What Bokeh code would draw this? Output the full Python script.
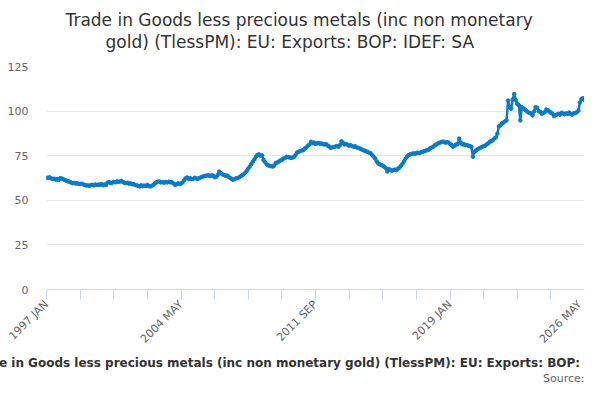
from bokeh.embed import file_html
from bokeh.models import FixedTicker, Range1d, Title
from bokeh.plotting import figure
from bokeh.resources import INLINE

TITLE_LINES = [
    "Trade in Goods less precious metals (inc non monetary",
    "gold) (TlessPM): EU: Exports: BOP: IDEF: SA",
]
CAPTION = ("Trade in Goods less precious metals (inc non monetary gold) "
           "(TlessPM): EU: Exports: BOP: IDEF: SA")
SOURCE = "Source:"

START_YEAR = 1997
MONTHS = ["JAN", "FEB", "MAR", "APR", "MAY", "JUN",
          "JUL", "AUG", "SEP", "OCT", "NOV", "DEC"]

# monthly index values, one list per year
v1997 = [62.8, 62.5, 62.9, 62.3, 62.0, 62.1, 61.6, 61.9, 61.4, 62.4, 62.2, 61.8]
v1998 = [61.4, 61.0, 60.6, 60.4, 60.0, 59.6, 59.8, 59.4, 59.5, 59.2, 59.1, 59.3]
v1999 = [58.9, 58.6, 58.3, 58.4, 58.1, 58.5, 58.7, 58.4, 58.9, 58.6, 58.8, 58.7]
v2000 = [59.1, 58.5, 58.9, 58.6, 60.0, 60.2, 59.6, 59.9, 60.3, 60.1, 60.6, 60.4]
v2001 = [60.5, 60.9, 60.2, 59.8, 59.6, 59.9, 59.3, 59.5, 59.0, 59.1, 58.6, 58.4]
v2002 = [58.0, 57.8, 58.5, 57.9, 58.2, 58.1, 58.7, 57.9, 57.8, 58.2, 58.6, 59.6]
v2003 = [60.1, 60.5, 60.5, 60.0, 60.2, 59.9, 60.2, 60.0, 60.4, 60.1, 60.2, 59.5]
v2004 = [58.7, 58.9, 59.5, 59.2, 59.4, 60.0, 61.2, 62.3, 62.8, 62.0, 62.4, 61.9]
v2005 = [62.0, 62.6, 62.2, 62.1, 62.4, 62.9, 63.2, 63.5, 63.7, 63.9, 64.1, 63.6]
v2006 = [63.9, 63.9, 62.9, 63.1, 64.2, 66.1, 65.2, 64.6, 64.2, 63.8, 63.9, 63.3]
v2007 = [62.6, 62.0, 61.5, 61.8, 62.3, 62.5, 62.8, 63.5, 64.0, 64.6, 65.4, 66.5]
v2008 = [67.8, 69.0, 70.3, 71.7, 72.9, 74.4, 75.4, 75.8, 75.0, 75.2, 72.6, 71.4]
v2009 = [70.2, 69.6, 69.3, 69.1, 68.9, 69.4, 70.9, 71.2, 71.8, 72.3, 72.6, 73.5]
v2010 = [73.6, 74.4, 74.2, 74.0, 73.8, 74.0, 74.3, 75.5, 76.8, 77.2, 77.6, 77.9]
v2011 = [78.1, 79.0, 79.6, 80.6, 81.2, 82.8, 82.0, 82.4, 81.6, 81.9, 82.1, 81.7]
v2012 = [81.9, 81.4, 81.3, 81.5, 80.6, 80.2, 79.4, 79.7, 79.8, 80.2, 80.4, 80.0]
v2013 = [81.0, 83.1, 82.2, 81.3, 81.6, 81.0, 80.6, 80.9, 80.4, 80.0, 80.3, 79.6]
v2014 = [79.3, 79.1, 78.6, 78.2, 77.8, 77.5, 77.1, 76.7, 76.4, 75.4, 74.5, 73.5]
v2015 = [71.8, 70.7, 70.2, 69.8, 69.4, 68.8, 68.0, 66.1, 67.5, 67.0, 66.6, 66.9]
v2016 = [67.2, 67.0, 67.8, 68.4, 69.4, 70.6, 72.0, 73.5, 74.6, 75.4, 75.8, 76.0]
v2017 = [76.3, 76.1, 76.5, 76.7, 76.4, 76.9, 77.2, 77.5, 77.8, 78.1, 78.4, 79.2]
v2018 = [79.6, 80.0, 80.8, 81.3, 81.9, 82.2, 82.5, 82.8, 82.8, 82.3, 82.6, 82.4]
v2019 = [81.6, 81.0, 80.0, 80.6, 81.3, 81.5, 84.6, 82.4, 81.3, 81.5, 80.9, 81.0]
v2020 = [80.6, 80.4, 80.0, 74.4, 77.2, 77.9, 78.6, 79.1, 79.5, 80.0, 80.3, 80.6]
v2021 = [81.4, 81.8, 82.8, 83.2, 83.6, 84.6, 85.3, 87.4, 91.5, 92.0, 93.2, 93.6]
v2022 = [94.3, 94.8, 105.9, 102.2, 101.3, 106.5, 109.6, 106.2, 104.0, 103.4, 94.8, 102.2]
v2023 = [101.5, 100.8, 100.2, 99.4, 99.0, 98.6, 97.6, 99.8, 102.2, 101.9, 100.0, 99.6]
v2024 = [98.5, 98.9, 99.4, 100.9, 100.5, 99.8, 99.0, 98.6, 97.2, 97.8, 98.1, 98.4]
v2025 = [98.0, 99.1, 98.6, 98.3, 98.7, 98.5, 99.2, 98.4, 98.0, 98.8, 98.9, 99.4]
v2026 = [100.2, 104.8, 106.8, 107.2, 106.0]

YEARS = [v1997, v1998, v1999, v2000, v2001, v2002, v2003, v2004, v2005, v2006,
         v2007, v2008, v2009, v2010, v2011, v2012, v2013, v2014, v2015, v2016,
         v2017, v2018, v2019, v2020, v2021, v2022, v2023, v2024, v2025, v2026]

Y_TICKS = [0, 25, 50, 75, 100, 125]
TICK_EVERY = 22      # months between x ticks
LABEL_EVERY = 88     # months between labelled x ticks

values = [v for year in YEARS for v in year]
idx = list(range(len(values)))
months = [f"{START_YEAR + i // 12} {MONTHS[i % 12]}" for i in idx]

BLUE = "#0b7bc6"
FONT = "DejaVu Sans"

p = figure(
    width=584, height=384,
    x_range=Range1d(0, len(values) - 1), y_range=Range1d(0, 125),
    output_backend="svg", toolbar_location=None, tools="",
    min_border_left=46, min_border_right=0,
    min_border_top=66, min_border_bottom=92,
)
p.outline_line_color = None
p.xgrid.visible = False
p.ygrid.grid_line_color = "#e6e6e6"
p.ygrid.grid_line_width = 1

p.yaxis.ticker = FixedTicker(ticks=Y_TICKS)
p.yaxis.axis_line_color = None
p.yaxis.major_tick_line_color = None
p.yaxis.minor_tick_line_color = None
p.yaxis.major_label_standoff = 12
p.yaxis.major_label_text_font = FONT
p.yaxis.major_label_text_font_size = "11px"
p.yaxis.major_label_text_color = "#666666"

x_ticks = list(range(0, len(values), TICK_EVERY))
p.xaxis.ticker = FixedTicker(ticks=x_ticks)
p.xaxis.major_label_overrides = {
    t: (months[t] if t % LABEL_EVERY == 0 else "") for t in x_ticks
}
p.xaxis.axis_line_color = "#ccd6eb"
p.xaxis.major_tick_line_color = "#ccd6eb"
p.xaxis.minor_tick_line_color = None
p.xaxis.major_tick_in = 0
p.xaxis.major_tick_out = 10
p.xaxis.major_label_orientation = 0.785
p.xaxis.major_label_standoff = 3
p.xaxis.major_label_text_font = FONT
p.xaxis.major_label_text_font_size = "11px"
p.xaxis.major_label_text_color = "#666666"

p.line(idx, values, line_color=BLUE, line_width=2.5)
p.scatter(idx, values, size=3.5, color=BLUE)

# "above" items stack outward from the frame: spacer, then line 2, then line 1
p.add_layout(Title(text=" ", text_font_size="1px", standoff=12), "above")
p.add_layout(Title(text=TITLE_LINES[1], align="left", offset=59, standoff=0,
                   text_font=FONT, text_font_size="17px", text_font_style="normal",
                   text_color="#333333"), "above")
p.add_layout(Title(text=TITLE_LINES[0], align="left", offset=19, standoff=0,
                   text_font=FONT, text_font_size="17px", text_font_style="normal",
                   text_color="#333333"), "above")

# the caption overruns the chart on both sides, as in the original
p.add_layout(Title(text=CAPTION, align="left", offset=-77, standoff=0,
                   text_font=FONT, text_font_size="12px", text_font_style="bold",
                   text_color="#333333"), "below")
p.add_layout(Title(text=SOURCE, align="right", offset=0, standoff=0,
                   text_font=FONT, text_font_size="11px", text_font_style="normal",
                   text_color="#666666"), "below")

open("out.html", "w").write(file_html(p, INLINE))
